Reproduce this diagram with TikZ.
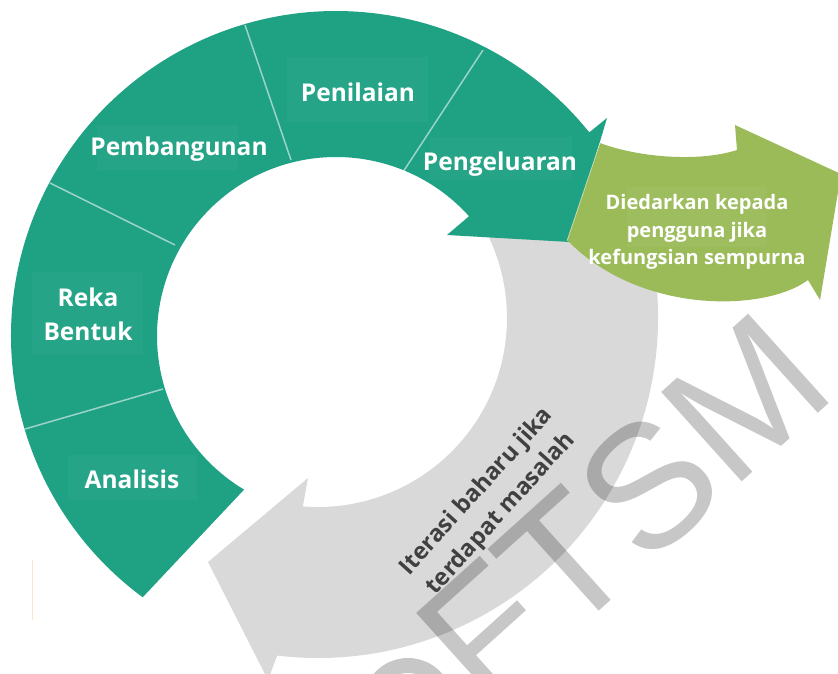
\documentclass[tikz,border=0pt]{standalone}
\usepackage{fontspec}
\setmainfont{Open Sans}
\newfontfamily\wmfont{Liberation Sans}
\usetikzlibrary{calc}
\definecolor{tealband}{HTML}{1FA184}
\definecolor{oliveband}{HTML}{9BBB59}
\definecolor{grayband}{HTML}{D9D9D9}
\definecolor{graytext}{HTML}{404040}
\definecolor{faintorange}{HTML}{FBE3CC}
\begin{document}
\begin{tikzpicture}[x=1pt,y=-1pt,
  stagelabel/.style={text=white,font=\bfseries\fontsize{24.5}{34}\selectfont,align=center,inner sep=0pt},
  greenlabel/.style={text=white,font=\bfseries\fontsize{20}{27.5}\selectfont,align=center,inner sep=0pt},
  graylabel/.style={text=graytext,font=\bfseries\fontsize{23.5}{33}\selectfont,align=center,inner sep=0pt},
  wmark/.style={text=black,text opacity=0.22,font=\wmfont\fontsize{175}{175}\selectfont,inner sep=0pt},
  wmarc/.style={draw=black,draw opacity=0.22,line width=15pt},
  divider/.style={draw=white,draw opacity=0.55,line width=1.5pt},
  tbox/.style={fill=white,fill opacity=0.035}]
\useasboundingbox (0,0) rectangle (838,673);
\clip (0,0) rectangle (838,673);
\fill[white] (0,0) rectangle (838,673);
\coordinate (G) at (318,318);
\coordinate (T) at (336,336);
% gray return arrow
\fill[grayband] ($(G)+(-28:189)$) -- ($(G)+(-28:340)$)
  arc[start angle=-28,end angle=96.9,radius=340]
  -- (268,680) -- (208,562) -- (308,478) -- ($(G)+(94.6:189)$)
  arc[start angle=94.6,end angle=-28,radius=189] -- cycle;
% teal main arrow
\fill[tealband] ($(T)+(120.9:179)$) -- ($(T)+(126.5:325)$)
  arc[start angle=126.5,end angle=321.2,radius=325]
  -- (607,118) -- (570,242) -- (447,235) -- ($(T)+(318:179)$)
  arc[start angle=318,end angle=120.9,radius=179] -- cycle;
% dividers
\coordinate (d1o) at (25,429); \coordinate (d1i) at (163,389);
\coordinate (d2o) at (50,183); \coordinate (d2i) at (175,245);
\coordinate (d3o) at (245,25); \coordinate (d3i) at (291,160);
\coordinate (d4o) at (483,50); \coordinate (d4i) at (403,172);
\draw[divider] (d1o) -- (d1i);
\draw[divider] (d2o) -- (d2i);
\draw[divider] (d3o) -- (d3i);
\draw[divider] (d4o) -- (d4i);
% green arrow
\fill[oliveband] (600,143) .. controls (640,158) and (700,162) .. (737,150)
  -- (735,125) -- (841,174) -- (820,300) -- (808,280)
  .. controls (765,312) and (640,315) .. (567,240) -- cycle;
\draw[white,draw opacity=0.5,line width=0.8pt] (567,241) -- (600,143);
% subtle text boxes
\fill[tbox] (287,57) rectangle (428,122);
\fill[tbox] (97,125) rectangle (238,170);
\fill[tbox] (32,272) rectangle (143,355);
\fill[tbox] (68,455) rectangle (197,500);
\fill[tbox] (430,137) rectangle (572,180);
\fill[tbox] (627,187) rectangle (767,247);
% labels
\node[stagelabel] (penilaian) at (358,92) {Penilaian};
\node[stagelabel] (pembangunan) at (179,149) {Pembangunan};
\node[stagelabel] (reka) at (88,314) {Reka\\Bentuk};
\node[stagelabel] (analisis) at (132,479) {Analisis};
\node[stagelabel] (pengeluaran) at (500,164) {Pengeluaran};
\node[greenlabel] (edar) at (697,232) {Diedarkan kepada\\pengguna jika\\kefungsian sempurna};
\node[graylabel,rotate=48] (iterasi) at (489,503) {Iterasi baharu jika\\terdapat masalah};
% faint mark
\draw[faintorange,line width=0.8pt] (32,560) -- (32,620);
% watermark
\node[wmark,rotate=42,anchor=base west] (wm) at (486,713) {FTSM};
\draw[wmarc] (408,703) circle[radius=37.5];
\end{tikzpicture}
\end{document}
